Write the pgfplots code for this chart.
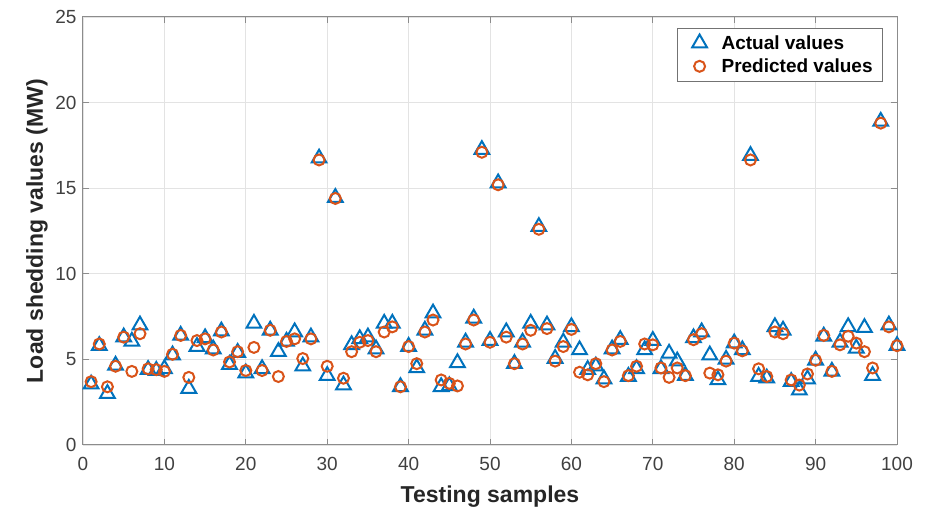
\documentclass[border=0pt]{standalone}
\usepackage{fontspec}
\setmainfont{Liberation Sans}
\usepackage{pgfplots}
\usepackage{pgfplotstable}
\pgfplotsset{compat=1.18}
\definecolor{mblue}{rgb}{0,0.447,0.741}
\definecolor{morange}{rgb}{0.85,0.325,0.098}
\pgfplotstableread{
x a p
1 3.55 3.7
2 5.8 5.9
3 3.0 3.4
4 4.65 4.6
5 6.3 6.3
6 6.05 4.3
7 7.0 6.5
8 4.4 4.45
9 4.35 4.4
10 4.45 4.3
11 5.25 5.3
12 6.4 6.4
13 3.3 3.95
14 5.75 6.1
15 6.25 6.2
16 5.6 5.55
17 6.65 6.6
18 4.7 4.85
19 5.4 5.45
20 4.2 4.35
21 7.1 5.7
22 4.45 4.35
23 6.7 6.7
24 5.45 4.0
25 6.05 6.05
26 6.6 6.2
27 4.6 5.05
28 6.3 6.2
29 16.75 16.65
30 4.05 4.6
31 14.45 14.4
32 3.5 3.9
33 5.85 5.45
34 6.2 6.0
35 6.3 6.1
36 5.6 5.45
37 7.1 6.6
38 7.1 6.9
39 3.4 3.4
40 5.75 5.75
41 4.5 4.75
42 6.7 6.6
43 7.7 7.3
44 3.4 3.8
45 3.45 3.6
46 4.8 3.45
47 6.0 5.9
48 7.4 7.3
49 17.25 17.1
50 6.1 6.0
51 15.3 15.2
52 6.6 6.3
53 4.75 4.75
54 6.0 5.9
55 7.1 6.7
56 12.75 12.6
57 7.0 6.8
58 5.05 4.9
59 6.0 5.75
60 6.9 6.75
61 5.55 4.25
62 4.4 4.1
63 4.6 4.75
64 3.85 3.7
65 5.6 5.55
66 6.15 6.05
67 4.0 4.05
68 4.45 4.6
69 5.55 5.9
70 6.1 5.85
71 4.45 4.5
72 5.35 3.95
73 4.9 4.5
74 4.05 4.05
75 6.25 6.15
76 6.6 6.5
77 5.25 4.2
78 3.8 4.1
79 5.0 4.9
80 5.95 5.95
81 5.55 5.5
82 16.9 16.65
83 4.0 4.45
84 3.9 4.0
85 6.9 6.6
86 6.7 6.5
87 3.7 3.8
88 3.2 3.5
89 3.85 4.15
90 4.95 4.95
91 6.35 6.4
92 4.3 4.3
93 6.0 5.85
94 6.9 6.35
95 5.65 5.95
96 6.85 5.45
97 4.05 4.5
98 18.9 18.8
99 7.0 6.9
100 5.8 5.8
}\data
\begin{document}
\begin{tikzpicture}
\useasboundingbox (-83pt,-68pt) rectangle (842pt,445pt);
\begin{axis}[
  scale only axis, width=814pt, height=428pt,
  at={(0,0)}, anchor=south west,
  xmin=0, xmax=100, ymin=0, ymax=25,
  xtick={0,10,...,100}, ytick={0,5,...,25},
  grid=major, major grid style={black!11, line width=0.8pt},
  axis line style={black!45, line width=1pt},
  tick style={black!45, line width=1pt}, tick align=inside, major tick length=6pt,
  ticklabel style={font=\fontsize{19}{19}\selectfont, text=black!75},
  xticklabel style={yshift=-9pt},
  yticklabel style={xshift=-3pt},
  /pgf/number format/assume math mode=true,
  xlabel={Testing samples}, ylabel={Load shedding values (MW)},
  label style={font=\fontsize{23}{23}\selectfont\bfseries, text=black!85},
  xlabel style={at={(axis description cs:0.5,-0.12)}, anchor=center},
  ylabel style={at={(axis description cs:-0.0565,0.5)}, anchor=center, rotate=0},
  legend style={at={(1,1)}, xshift=-14pt, yshift=-11pt, anchor=north east,
    font=\fontsize{19}{19}\selectfont\bfseries, draw=black!55, line width=0.8pt,
    inner xsep=8pt, inner ysep=5pt, row sep=4pt},
  legend cell align=left,
  legend image code/.code={\path[draw=none,fill=none] (0pt,-1pt) rectangle (34pt,1pt);
    \draw[#1] plot[only marks] coordinates {(14pt,0pt)};},
]
\addplot[only marks, mark=triangle, mark size=8.5pt, color=mblue, line width=2pt] table[x=x, y=a] {\data};
\addlegendentry{Actual values}
\addplot[only marks, mark=o, mark size=5.5pt, color=morange, line width=2pt] table[x=x, y=p] {\data};
\addlegendentry{Predicted values}
\end{axis}
\end{tikzpicture}
\end{document}
